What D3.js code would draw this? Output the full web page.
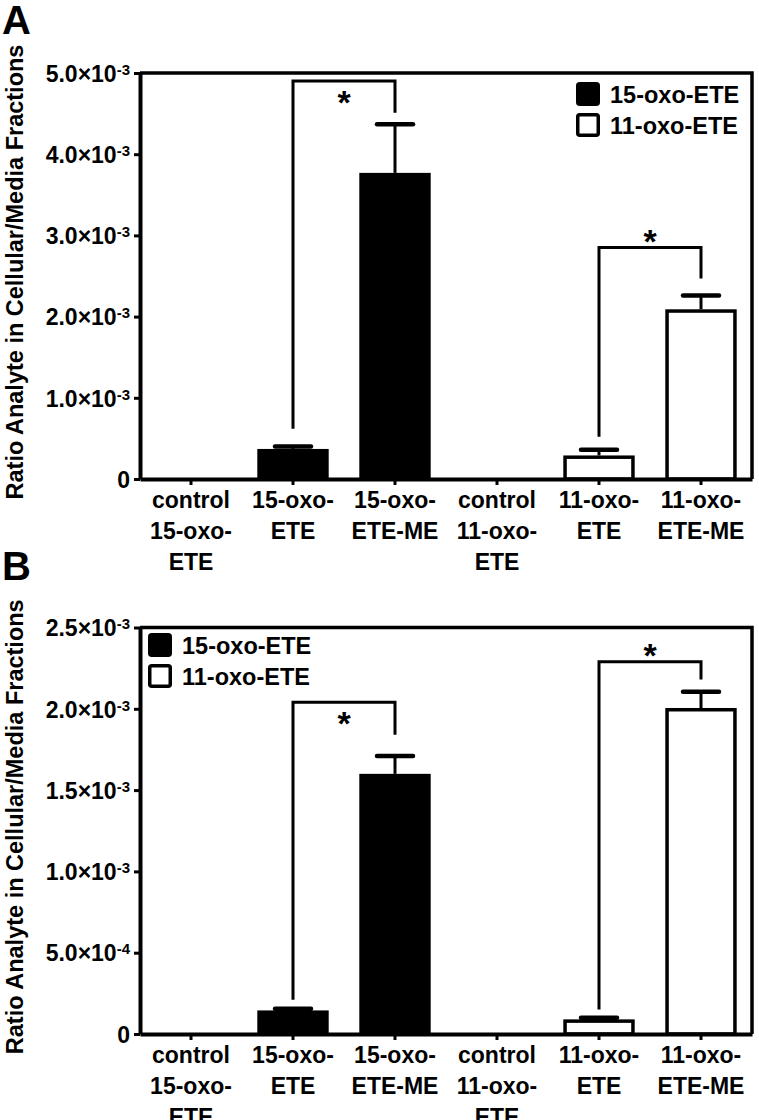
<!DOCTYPE html>
<html>
<head>
<meta charset="utf-8">
<script src="https://cdn.jsdelivr.net/npm/d3@7"></script>
<style>
    body { margin: 0; background: #fff; }
    text { font-family: "Liberation Sans", Arial, sans-serif; font-weight: bold; fill: #000; }
</style>
</head>
<body>
<svg id="chart"></svg>
<script>
// categories (one label line per entry) and which compound each belongs to
let categoryLabels = [
    ["control", "15-oxo-", "ETE"],
    ["15-oxo-", "ETE"],
    ["15-oxo-", "ETE-ME"],
    ["control", "11-oxo-", "ETE"],
    ["11-oxo-", "ETE"],
    ["11-oxo-", "ETE-ME"]
];
let categoryGroup = ["15-oxo-ETE", "15-oxo-ETE", "15-oxo-ETE", "11-oxo-ETE", "11-oxo-ETE", "11-oxo-ETE"];
let legendNames = ["15-oxo-ETE", "11-oxo-ETE"];

// panel A
let meanA = [0, 0.37e-3, 3.77e-3, 0, 0.29e-3, 2.09e-3];
let semA = [0, 0.03e-3, 0.60e-3, 0, 0.07e-3, 0.17e-3];
let ticksA = [0, 1e-3, 2e-3, 3e-3, 4e-3, 5e-3];
let bracketsA = [
    { from: 1, to: 2, level: 4.90e-3, leftEnd: 0.62e-3, rightEnd: 4.51e-3, star: "below" },
    { from: 4, to: 5, level: 2.85e-3, leftEnd: 0.52e-3, rightEnd: 2.47e-3, star: "above" }
];

// panel B
let meanB = [0, 0.145e-3, 1.60e-3, 0, 0.09e-3, 2.005e-3];
let semB = [0, 0.01e-3, 0.11e-3, 0, 0.01e-3, 0.10e-3];
let ticksB = [0, 0.5e-3, 1.0e-3, 1.5e-3, 2.0e-3, 2.5e-3];
let bracketsB = [
    { from: 1, to: 2, level: 2.04e-3, leftEnd: 0.21e-3, rightEnd: 1.84e-3, star: "below" },
    { from: 4, to: 5, level: 2.29e-3, leftEnd: 0.15e-3, rightEnd: 2.18e-3, star: "above" }
];

let yTitle = "Ratio Analyte in Cellular/Media Fractions";

let svg = d3.select("#chart").attr("width", 759).attr("height", 1120);

let left = 140, right = 752;
let color = d3.scaleOrdinal().domain(legendNames).range(["#000", "#fff"]);

let panels = [
    { letter: "A", letterY: 34, top: 73, bottom: 479, ticks: ticksA, means: meanA, sems: semA, brackets: bracketsA, legendX: 576, legendY: 82 },
    { letter: "B", letterY: 580, top: 627.5, bottom: 1034, ticks: ticksB, means: meanB, sems: semB, brackets: bracketsB, legendX: 148, legendY: 633 }
];

function tickParts(v) {
    if (v === 0) return null;
    let e = Math.floor(Math.log10(v) + 1e-9);
    return { base: (v / Math.pow(10, e)).toFixed(1) + "\u00d710", exp: String(e) };
}

panels.forEach(function (p) {
    let g = svg.append("g");

    let x = d3.scaleBand()
        .domain(d3.range(categoryLabels.length))
        .range([left, right])
        .paddingInner(0.3)
        .paddingOuter(0.15);

    let y = d3.scaleLinear()
        .domain([0, d3.max(p.ticks)])
        .range([p.bottom, p.top]);

    // panel letter
    g.append("text")
        .attr("x", 2)
        .attr("y", p.letterY)
        .attr("font-size", 40)
        .text(p.letter);

    // y title
    g.append("text")
        .attr("transform", "translate(23," + ((p.top + p.bottom) / 2 - 4) + ") rotate(-90)")
        .attr("text-anchor", "middle")
        .attr("font-size", 23.5)
        .text(yTitle);

    // frame top / right
    g.append("path")
        .attr("d", "M" + left + "," + p.top + "H" + right + "V" + p.bottom)
        .attr("fill", "none")
        .attr("stroke", "#000")
        .attr("stroke-width", 3.5);

    let barData = p.means.map(function (m, i) { return { i: i, m: m, s: p.sems[i] }; })
        .filter(function (d) { return d.m > 0; });

    // bars
    let sw = 3.5;
    g.selectAll(".bar")
        .data(barData)
        .enter().append("rect")
        .attr("class", "bar")
        .attr("x", function (d) { return x(d.i) + sw / 2; })
        .attr("y", function (d) { return y(d.m) + sw / 2; })
        .attr("width", x.bandwidth() - sw)
        .attr("height", function (d) { return y(0) - y(d.m) - sw / 2; })
        .attr("fill", function (d) { return color(categoryGroup[d.i]); })
        .attr("stroke", "#000")
        .attr("stroke-width", sw);

    // error bars
    let errs = g.selectAll(".err")
        .data(barData)
        .enter().append("g")
        .attr("class", "err");
    errs.append("line")
        .attr("x1", function (d) { return x(d.i) + x.bandwidth() / 2; })
        .attr("x2", function (d) { return x(d.i) + x.bandwidth() / 2; })
        .attr("y1", function (d) { return y(d.m); })
        .attr("y2", function (d) { return y(d.m + d.s); })
        .attr("stroke", "#000")
        .attr("stroke-width", 3);
    errs.append("line")
        .attr("x1", function (d) { return x(d.i) + x.bandwidth() / 2 - 18; })
        .attr("x2", function (d) { return x(d.i) + x.bandwidth() / 2 + 18; })
        .attr("y1", function (d) { return y(d.m + d.s); })
        .attr("y2", function (d) { return y(d.m + d.s); })
        .attr("stroke", "#000")
        .attr("stroke-width", 4.5)
        .attr("stroke-linecap", "round");

    // significance brackets
    p.brackets.forEach(function (b) {
        let x1 = x(b.from) + x.bandwidth() / 2;
        let x2 = x(b.to) + x.bandwidth() / 2;
        g.append("path")
            .attr("d", "M" + x1 + "," + y(b.leftEnd) + "V" + y(b.level) + "H" + x2 + "V" + y(b.rightEnd))
            .attr("fill", "none")
            .attr("stroke", "#000")
            .attr("stroke-width", 3);
        let cy = y(b.level) + (b.star === "below" ? 14 : -14);
        g.append("text")
            .attr("x", (x1 + x2) / 2)
            .attr("y", cy + 19)
            .attr("text-anchor", "middle")
            .attr("font-size", 34)
            .text("*");
    });

    // y axis
    let yAxis = g.append("g")
        .attr("transform", "translate(" + left + ",0)")
        .call(d3.axisLeft(y).tickValues(p.ticks).tickSize(6).tickSizeOuter(0).tickPadding(4));
    yAxis.attr("font-family", null).attr("font-size", null);
    yAxis.select(".domain").attr("stroke-width", 4);
    yAxis.selectAll(".tick line").attr("stroke-width", 3);
    yAxis.selectAll(".tick text").each(function (v) {
        let t = d3.select(this).text("").attr("font-size", 23).attr("dy", "0.36em");
        let parts = tickParts(v);
        if (!parts) { t.text("0"); return; }
        t.append("tspan").text(parts.base);
        t.append("tspan").attr("font-size", 15).attr("dy", -7).text(parts.exp);
    });

    // x axis
    let xAxis = g.append("g")
        .attr("transform", "translate(0," + p.bottom + ")")
        .call(d3.axisBottom(x).tickSize(6).tickSizeOuter(0));
    xAxis.attr("font-family", null).attr("font-size", null);
    xAxis.select(".domain").attr("stroke-width", 4);
    xAxis.selectAll(".tick line").attr("stroke-width", 3);
    xAxis.selectAll(".tick text").each(function (i) {
        let t = d3.select(this).text("").attr("y", 0).attr("dy", null).attr("font-size", 23);
        categoryLabels[i].forEach(function (line, k) {
            t.append("tspan").attr("x", 0).attr("y", 29 + k * 31).text(line);
        });
    });

    // legend
    let leg = g.append("g").attr("transform", "translate(" + p.legendX + "," + p.legendY + ")");
    legendNames.forEach(function (name, k) {
        leg.append("rect")
            .attr("x", 1.75)
            .attr("y", k * 31 + 1.75)
            .attr("width", 20.5)
            .attr("height", 20.5)
            .attr("rx", 2)
            .attr("fill", color(name))
            .attr("stroke", "#000")
            .attr("stroke-width", 3.5);
        leg.append("text")
            .attr("x", 34)
            .attr("y", k * 31 + 21)
            .attr("font-size", 23.5)
            .text(name);
    });
});
</script>
</body>
</html>
